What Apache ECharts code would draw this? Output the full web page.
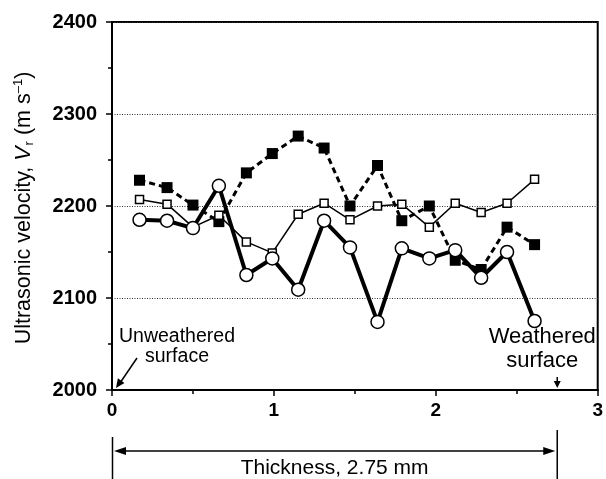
<!DOCTYPE html>
<html>
<head>
<meta charset="utf-8">
<script src="https://cdn.jsdelivr.net/npm/echarts@6/dist/echarts.min.js"></script>
<style>
html,body{margin:0;padding:0;background:#fff}
#chart{width:606px;height:479px}
</style>
</head>
<body>
<div id="chart"></div>
<script>
// depth through the sample (mm) and velocities
var depth = [0.17, 0.34, 0.50, 0.66, 0.83, 0.99, 1.15, 1.31, 1.47, 1.64, 1.79, 1.96, 2.12, 2.28, 2.44, 2.61];
var filledSquares = [2228, 2220, 2201, 2183, 2236, 2257, 2276, 2263, 2200, 2244, 2184, 2200, 2141, 2131, 2177, 2158];
var openSquares = [2207, 2202, 2177, 2190, 2161, 2149, 2191, 2203, 2185, 2200, 2202, 2177, 2203, 2193, 2203, 2229];
var openCircles = [2185, 2184, 2176, 2222, 2125, 2143, 2109, 2184, 2155, 2074, 2154, 2143, 2152, 2122, 2150, 2075];
var xRange = [0, 3];
var yRange = [2000, 2400];
var thickness = 2.75;

var FONT = 'Liberation Sans, Arial, sans-serif';

function pairs(ys) {
    var out = [];
    for (var i = 0; i < ys.length; i++) out.push([depth[i], ys[i]]);
    return out;
}

var chart = echarts.init(document.getElementById('chart'));

var option = {
    animation: false,
    grid: {
        left: 112, right: 6, top: 22, bottom: 89,
        show: true, borderColor: '#000', borderWidth: 2
    },
    xAxis: {
        type: 'value',
        min: xRange[0], max: xRange[1], interval: 1,
        axisLine: { lineStyle: { color: '#000', width: 2 } },
        axisTick: { inside: false, length: 6, lineStyle: { color: '#000', width: 1.5 } },
        minorTick: { show: true, splitNumber: 2, length: 4, lineStyle: { color: '#000', width: 1.5 } },
        axisLabel: { color: '#000', fontSize: 19, fontWeight: 'bold', fontFamily: FONT, margin: 11 },
        splitLine: { show: false }
    },
    yAxis: {
        type: 'value',
        min: yRange[0], max: yRange[1], interval: 100,
        axisLine: { show: true, lineStyle: { color: '#000', width: 2 } },
        axisTick: { show: true, inside: false, length: 6, lineStyle: { color: '#000', width: 1.5 } },
        minorTick: { show: true, splitNumber: 2, length: 4, lineStyle: { color: '#000', width: 1.5 } },
        axisLabel: {
            color: '#000', fontSize: 20, fontWeight: 'bold', fontFamily: FONT, margin: 15,
            formatter: function (v) { return String(v); }
        },
        splitLine: { show: true, lineStyle: { color: '#333', width: 1, type: [1, 1.5] } }
    },
    series: [
        {
            name: 'filled',
            type: 'line',
            data: pairs(filledSquares),
            symbol: 'rect',
            symbolSize: 11,
            itemStyle: { color: '#000' },
            lineStyle: { color: '#000', width: 3, type: [6, 4] },
            z: 2
        },
        {
            name: 'open squares',
            type: 'line',
            data: pairs(openSquares),
            symbol: 'rect',
            symbolSize: 8,
            itemStyle: { color: '#fff', borderColor: '#000', borderWidth: 1.5 },
            lineStyle: { color: '#000', width: 1.5 },
            z: 3
        },
        {
            name: 'open circles',
            type: 'line',
            data: pairs(openCircles),
            symbol: 'circle',
            symbolSize: 13,
            itemStyle: { color: '#fff', borderColor: '#000', borderWidth: 1.5 },
            lineStyle: { color: '#000', width: 4 },
            z: 4
        }
    ]
};

chart.setOption(option);

// annotations placed from axis coordinates
function px(x, y) { return chart.convertToPixel({ gridIndex: 0 }, [x, y]); }

function head(tip, from, len, half) {
    var dx = tip[0] - from[0], dy = tip[1] - from[1];
    var d = Math.sqrt(dx * dx + dy * dy);
    var ux = dx / d, uy = dy / d;
    var bx = tip[0] - ux * len, by = tip[1] - uy * len;
    return {
        type: 'polygon',
        shape: { points: [tip, [bx - uy * half, by + ux * half], [bx + uy * half, by - ux * half]] },
        style: { fill: '#000' }
    };
}

function line(a, b, w) {
    return {
        type: 'line',
        shape: { x1: a[0], y1: a[1], x2: b[0], y2: b[1] },
        style: { stroke: '#000', lineWidth: w }
    };
}

var origin = px(0, yRange[0]);
var plotTop = px(0, yRange[1]);
var edge = px(thickness, yRange[0]);
var g = [];

// y axis title, rotated, with subscript and superscript
g.push({
    type: 'text',
    x: 24, y: (origin[1] + plotTop[1]) / 2 + 2,
    rotation: Math.PI / 2,
    style: {
        text: '{a|Ultrasonic velocity, }{i|V}{s|r}{a| (m s}{p|–1}{a|)}',
        align: 'center', verticalAlign: 'middle',
        rich: {
            a: { fontSize: 21.5, fontFamily: FONT, fill: '#000', lineHeight: 30 },
            i: { fontSize: 21.5, fontFamily: FONT, fontStyle: 'italic', fill: '#000', lineHeight: 30 },
            s: { fontSize: 13, fontFamily: FONT, fill: '#000', lineHeight: 30, verticalAlign: 'bottom', padding: [0, 0, 3, 1] },
            p: { fontSize: 13, fontFamily: FONT, fill: '#000', lineHeight: 30, verticalAlign: 'top', padding: [3, 0, 0, 0] }
        }
    }
});

// Unweathered surface label + arrow
var uFrom = [origin[0] + 25, origin[1] - 32];
var uTip = [origin[0] + 4, origin[1] - 2];
g.push(line(uFrom, [uTip[0] + 4, uTip[1] - 5], 1.5));
g.push(head(uTip, uFrom, 9, 4));
g.push({
    type: 'text', x: origin[0] + 65, y: origin[1] - 43.5,
    style: { text: 'Unweathered\nsurface', fontSize: 19.5, fontFamily: FONT, fill: '#000',
        align: 'center', verticalAlign: 'middle', lineHeight: 19.5 }
});

// Weathered surface label + arrow
var wFrom = [edge[0], edge[1] - 13];
var wTip = [edge[0], edge[1] - 2];
g.push(line(wFrom, [wTip[0], wTip[1] - 5], 1.5));
g.push(head(wTip, wFrom, 7, 3.5));
g.push({
    type: 'text', x: edge[0] - 15, y: edge[1] - 41,
    style: { text: 'Weathered\nsurface', fontSize: 22, fontFamily: FONT, fill: '#000',
        align: 'center', verticalAlign: 'middle', lineHeight: 24 }
});

// Thickness dimension
var dimY = origin[1] + 61;
g.push(line([origin[0] + 0.5, origin[1] + 47], [origin[0] + 0.5, 479], 1.5));
g.push(line([edge[0], origin[1] + 40], [edge[0], 479], 1.5));
g.push(line([origin[0] + 8, dimY], [edge[0] - 8, dimY], 1.5));
g.push(head([origin[0] + 2, dimY], [edge[0], dimY], 12, 4));
g.push(head([edge[0] - 2, dimY], [origin[0], dimY], 12, 4));
g.push({
    type: 'text', x: (origin[0] + edge[0]) / 2, y: dimY + 17,
    style: { text: 'Thickness, 2.75 mm', fontSize: 21, fontFamily: FONT, fill: '#000',
        align: 'center', verticalAlign: 'middle' }
});

chart.setOption({ graphic: g });
</script>
</body>
</html>
